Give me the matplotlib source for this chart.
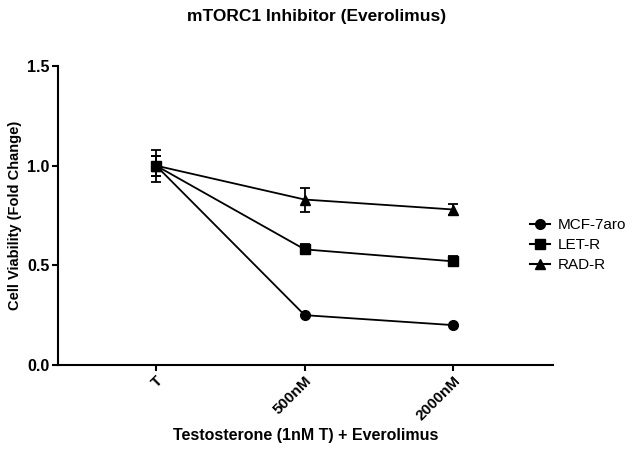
import matplotlib
matplotlib.use("Agg")
import matplotlib.pyplot as plt
from matplotlib.lines import Line2D

plt.rcParams['font.family'] = ['Liberation Sans', 'DejaVu Sans']

categories = ["T", "500nM", "2000nM"]
series_names = ["MCF-7aro", "LET-R", "RAD-R"]
mcf = [1.0, 0.25, 0.20]
mcf_err = [0.05, 0.0, 0.0]
letr = [1.0, 0.58, 0.52]
letr_err = [0.05, 0.025, 0.025]
radr = [1.0, 0.83, 0.78]
radr_err = [0.08, 0.06, 0.03]
markers = ["o", "s", "^"]

fig = plt.figure(figsize=(6.34, 4.51), dpi=100)
ax = fig.add_axes([0.0915, 0.1907, 0.7805, 0.663])

xs = list(range(len(categories)))
handles = []
for vals, errs, name, m in zip([mcf, letr, radr], [mcf_err, letr_err, radr_err], series_names, markers):
    ax.errorbar(xs, vals, yerr=errs, color='black', marker=m, markersize=7,
                linewidth=1.3, elinewidth=1.3, capsize=3.7, capthick=1.3)
    handles.append(Line2D([], [], color='black', marker=m, markersize=7, linewidth=1.5, label=name))

ax.set_xlim(-0.66, 2.67)
ax.set_ylim(0, 1.5)
ax.set_yticks([0.0, 0.5, 1.0, 1.5])
ax.set_yticklabels(["0.0", "0.5", "1.0", "1.5"], fontweight='bold', fontsize=11.5)
ax.set_xticks(xs)
ax.set_xticklabels(categories, rotation=45, ha='right', rotation_mode='anchor', fontweight='bold', fontsize=11)
for s in ['top', 'right']:
    ax.spines[s].set_visible(False)
for s in ['left', 'bottom']:
    ax.spines[s].set_linewidth(1.5)
ax.tick_params(direction='out', width=1.5, length=4, pad=2)

ax.set_ylabel("Cell Viability (Fold Change)", fontweight='bold', fontsize=10.5, labelpad=4)
ax.set_xlabel("Testosterone (1nM T) + Everolimus", fontweight='bold', fontsize=11.5, labelpad=4)
fig.suptitle("mTORC1 Inhibitor (Everolimus)", fontweight='bold', fontsize=12.5, x=0.5, y=0.98)

fig.legend(handles=handles, loc='upper left', bbox_to_anchor=(530/634, (451-218)/451),
           frameon=False, fontsize=11, handlelength=1.3, handletextpad=0.5,
           labelspacing=0.4, borderpad=0, borderaxespad=0)

fig.savefig("out.png", dpi=100)
